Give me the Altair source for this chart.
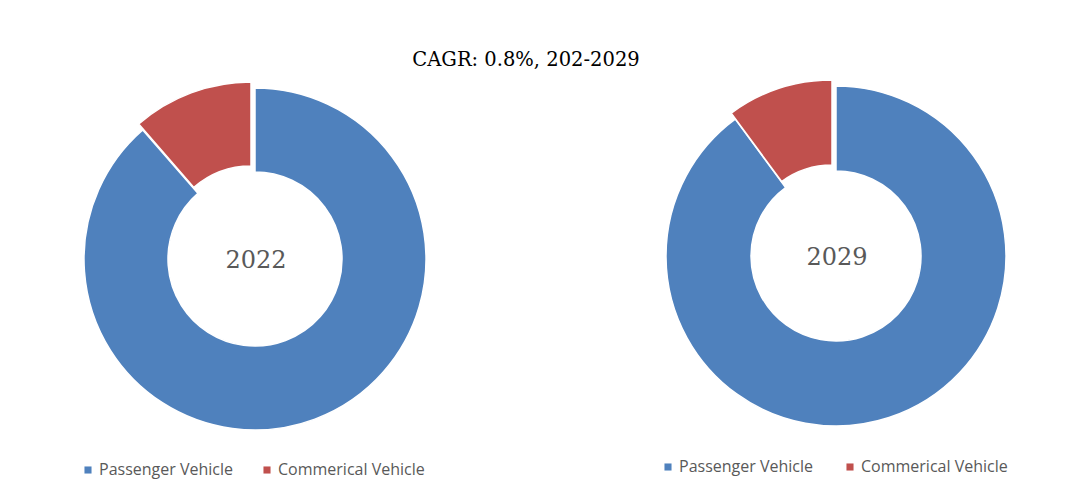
import altair as alt
import pandas as pd

years = ["2022", "2029"]
categories = ["Passenger Vehicle", "Commerical Vehicle"]
share_2022 = [88.6, 11.4]
share_2029 = [89.9, 10.1]
colors = ["#4F81BD", "#C0504D"]
title_text = "CAGR: 0.8%, 202-2029"

rows = []
for y, shares in zip(years, [share_2022, share_2029]):
    for i, (c, v) in enumerate(zip(categories, shares)):
        rows.append({"year": y, "category": c, "value": v, "order": i})
df = pd.DataFrame(rows)

# layout (pixels)
centers = {"2022": (255, 259), "2029": (836, 256)}
radii = {"2022": (171, 87), "2029": (170, 85)}
explode = {"Passenger Vehicle": (0, 0), "Commerical Vehicle": (-4, -6)}

color_scale = alt.Scale(domain=categories, range=colors)

layers = []
for y in years:
    cx, cy = centers[y]
    ro, ri = radii[y]
    for c in categories:
        dx, dy = explode[c]
        arc = (
            alt.Chart(df)
            .transform_filter(alt.datum.year == y)
            .transform_window(cum="sum(value)", sort=[alt.SortField("order", order="ascending")])
            .transform_calculate(start="datum.cum - datum.value")
            .transform_filter(alt.datum.category == c)
            .mark_arc(outerRadius=ro, innerRadius=ri, stroke="white", strokeWidth=1.5)
            .encode(
                theta=alt.Theta("start:Q", scale=alt.Scale(domain=[0, 100])),
                theta2="cum:Q",
                color=alt.Color("category:N", scale=color_scale, legend=None),
                x=alt.value(cx + dx),
                y=alt.value(cy + dy),
            )
        )
        layers.append(arc)
    label = (
        alt.Chart(pd.DataFrame({"year": [y]}))
        .mark_text(font="DejaVu Serif", fontSize=24, color="#595959", align="center", baseline="middle")
        .encode(text="year:N", x=alt.value(cx + 1), y=alt.value(cy + 2))
    )
    layers.append(label)

# title
layers.append(
    alt.Chart(pd.DataFrame({"t": [title_text]}))
    .mark_text(font="DejaVu Serif", fontSize=19.5, color="#000000", align="center", baseline="middle")
    .encode(text="t:N", x=alt.value(526), y=alt.value(60))
)

# manual legends
legend_pos = {"2022": (88, 470, 179), "2029": (668, 467, 182)}
for y in years:
    lx, ly, gap = legend_pos[y]
    for i, c in enumerate(categories):
        sq = (
            alt.Chart(pd.DataFrame({"category": [c]}))
            .mark_square(size=50, opacity=1)
            .encode(
                color=alt.Color("category:N", scale=color_scale, legend=None),
                x=alt.value(lx + i * gap),
                y=alt.value(ly),
            )
        )
        tx = (
            alt.Chart(pd.DataFrame({"category": [c]}))
            .mark_text(font="Open Sans", fontSize=16, color="#595959", align="left", baseline="middle")
            .encode(text="category:N", x=alt.value(lx + i * gap + 11), y=alt.value(ly))
        )
        layers += [sq, tx]

chart = (
    alt.layer(*layers)
    .properties(width=1089, height=502, padding=0, autosize="none")
    .configure_view(strokeWidth=0)
)

chart.save("out.html", embed_options={"renderer": "svg", "actions": False})
